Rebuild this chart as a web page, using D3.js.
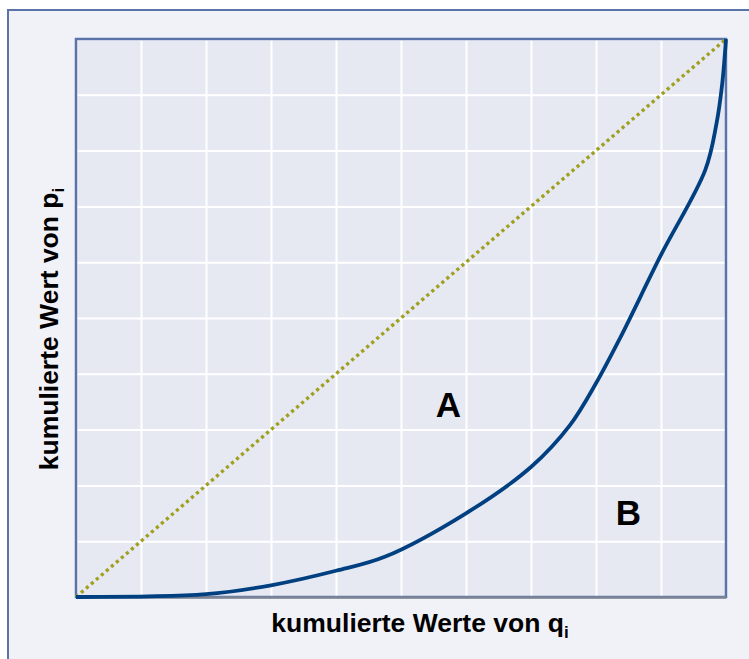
<!DOCTYPE html>
<html lang="de">
<head>
<meta charset="UTF-8" />
<title>Lorenzkurve</title>
<script src="https://cdn.jsdelivr.net/npm/d3@7"></script>
<style>
  body { margin: 0; background: #fff; }
  text { font-family: Arial, "Liberation Sans", sans-serif; font-weight: 700; fill: #000; }
</style>
</head>
<body>
<div id="chart"></div>
<script>
// cumulative shares
const qValues = [0, 0.2, 0.3, 0.4, 0.475, 0.6, 0.7, 0.76, 0.8, 0.837, 0.9, 0.968, 0.985, 0.994, 1];
const pValues = [0, 0.005, 0.021, 0.047, 0.072, 0.15, 0.233, 0.308, 0.383, 0.464, 0.613, 0.765, 0.846, 0.918, 1];
const equality = [0, 1];
const gridTicks = d3.range(0, 1.0001, 0.1);
const areaLabels = [{ name: "A", q: 0.573, p: 0.34 }, { name: "B", q: 0.85, p: 0.145 }];

const W = 749, H = 659;
const margin = { top: 39, right: 23, bottom: 62, left: 76 };
const width = W - margin.left - margin.right,
      height = H - margin.top - margin.bottom;

const svg = d3.select("#chart").append("svg")
    .attr("width", W).attr("height", H);

// outer frame, runs off the right and bottom
svg.append("rect")
    .attr("x", 8).attr("y", 10).attr("width", W).attr("height", H)
    .attr("fill", "#f1f2f8").attr("stroke", "#5a74aa").attr("stroke-width", 2);

const g = svg.append("g").attr("transform", `translate(${margin.left},${margin.top})`);

const x = d3.scaleLinear().domain([0, 1]).range([0, width]);
const y = d3.scaleLinear().domain([0, 1]).range([height, 0]);

g.append("rect").attr("width", width).attr("height", height).attr("fill", "#e6e9f2");

// grid
g.append("g").call(d3.axisBottom(x).tickValues(gridTicks).tickSize(height).tickFormat(""))
    .call(a => a.select(".domain").remove())
    .selectAll("line").attr("stroke", "#fff").attr("stroke-width", 2);
g.append("g").call(d3.axisLeft(y).tickValues(gridTicks).tickSize(-width).tickFormat(""))
    .call(a => a.select(".domain").remove())
    .selectAll("line").attr("stroke", "#fff").attr("stroke-width", 2);

// frame of plot
g.append("rect").attr("width", width).attr("height", height)
    .attr("fill", "none").attr("stroke", "#5a74aa").attr("stroke-width", 2.5);
g.append("line").attr("x1", 0).attr("x2", width).attr("y1", height + 0.5).attr("y2", height + 0.5)
    .attr("stroke", "#7d8594").attr("stroke-width", 2.5);

// line of equality
g.append("path")
    .datum(equality)
    .attr("d", d3.line().x(d => x(d)).y(d => y(d)))
    .attr("stroke", "#a0a01e").attr("stroke-width", 3.4)
    .attr("stroke-dasharray", "3.2 3.4").attr("fill", "none");

// Lorenz curve
const pts = qValues.map((q, i) => [q, pValues[i]]);
g.append("path")
    .datum(pts)
    .attr("d", d3.line().x(d => x(d[0])).y(d => y(d[1])).curve(d3.curveCatmullRom.alpha(0.5)))
    .attr("stroke", "#004080").attr("stroke-width", 3.8).attr("fill", "none")
    .attr("stroke-linejoin", "round");

g.selectAll(".lbl").data(areaLabels).join("text")
    .attr("x", d => x(d.q)).attr("y", d => y(d.p))
    .attr("text-anchor", "middle").attr("dominant-baseline", "middle")
    .style("font-size", "35px").text(d => d.name);

// axis titles
const xt = svg.append("text").attr("x", 420).attr("y", 632)
    .attr("text-anchor", "middle").style("font-size", "26.5px");
xt.append("tspan").text("kumulierte Werte von q");
xt.append("tspan").attr("dy", 6).style("font-size", "17px").text("i");

const yt = svg.append("text").attr("transform", `translate(58,${329}) rotate(-90)`)
    .attr("text-anchor", "middle").style("font-size", "26.5px");
yt.append("tspan").text("kumulierte Wert von p");
yt.append("tspan").attr("dy", 6).style("font-size", "17px").text("i");
</script>
</body>
</html>
